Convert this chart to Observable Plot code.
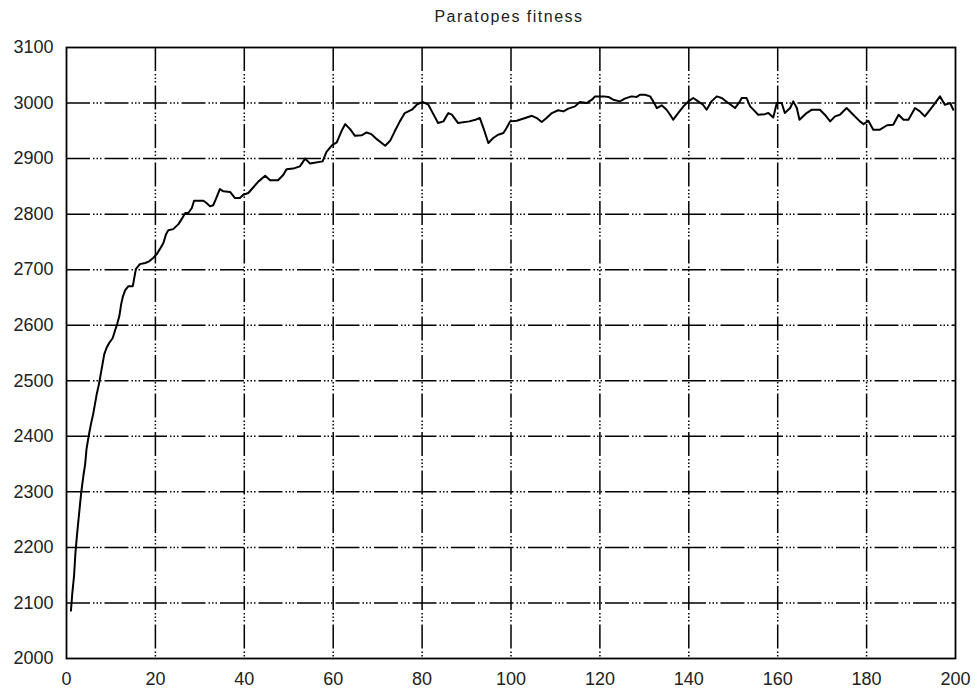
<!DOCTYPE html>
<html>
<head>
<meta charset="utf-8">
<script src="https://cdn.jsdelivr.net/npm/d3@7"></script>
<script src="https://cdn.jsdelivr.net/npm/@observablehq/plot@0.6"></script>
<style>
  html, body { margin: 0; padding: 0; background: #fff; }
  #title { position: relative; width: 975px; height: 30px; }
  #title span { position: absolute; left: 509px; top: 8px; transform: translateX(-50%);
    font-family: "Liberation Sans", Arial, sans-serif; font-size: 16px; letter-spacing: 1.5px; color: #222; white-space: nowrap; }
</style>
</head>
<body>
<div id="title"><span>Paratopes fitness</span></div>
<div id="chart"></div>
<script>
const generation = [1,1.3,1.7,2,2.4,2.9,3.3,3.8,4.2,4.5,5,5.5,6,6.4,6.8,7.3,7.7,8.1,8.5,9,9.6,10.4,10.9,11.4,11.9,12.3,12.7,13.2,13.9,14.9,15.2,15.6,16.5,17.7,18.6,19.5,20.3,21,21.8,22.4,22.9,24,25.2,25.9,26.7,27.4,28.2,28.7,30.8,31.5,32.3,33,33.6,34.5,35.3,36.8,37.9,39,39.8,40.9,42,43.2,44.7,45.8,47.6,48.8,49.5,51,52.5,53.7,54.8,57.6,58.5,59.7,60.8,61.9,62.7,63.8,64.9,66.4,67.5,68.6,69.8,71.7,72.8,73.9,75,76.1,77.7,78.8,80.1,81.4,82.2,83.6,84.8,85.9,86.7,88.1,90.6,92,93,93.8,94.9,96,97.1,98.3,99,99.8,101.3,103.2,104.7,105.8,106.9,108,109.2,110.6,111.8,112.9,114.4,115.5,117,118.2,118.9,120.8,121.9,123,124.5,125.6,127.1,128.3,129,130.1,131.3,132,132.8,133.9,135,135.8,136.5,137.6,138.8,139.9,141,142.1,143.2,144,145.1,146.3,147.4,148.9,150.4,151.5,151.9,153,153.8,154.9,155.6,157.1,157.9,159,159.8,160.9,161.6,162.8,163.5,164.3,164.9,166.5,167.7,169.5,170.6,171.8,172.9,174,175.5,177,178.5,179.3,180.4,181.5,183,184.6,186,187.2,188.3,189.4,190.9,192,193.1,194.3,195.4,196.5,197.6,198.8,199.5];
const fitness = [2086,2117,2149,2189,2226,2266,2298,2329,2350,2377,2401,2422,2440,2458,2476,2494,2512,2530,2548,2559,2568,2577,2590,2602,2617,2638,2652,2663,2670,2670,2683,2701,2710,2712,2715,2721,2728,2737,2748,2764,2771,2773,2782,2791,2802,2802,2811,2824,2824,2820,2814,2816,2827,2845,2841,2840,2829,2829,2835,2838,2848,2859,2869,2861,2861,2871,2881,2882,2886,2900,2891,2895,2912,2924,2929,2950,2962,2953,2941,2942,2947,2944,2935,2923,2932,2950,2967,2982,2988,2997,3002,2997,2985,2964,2967,2982,2979,2964,2967,2970,2973,2955,2928,2937,2943,2946,2955,2967,2968,2973,2977,2973,2966,2973,2982,2987,2985,2990,2994,3002,3000,3006,3012,3012,3011,3006,3003,3008,3012,3011,3015,3015,3012,3003,2991,2996,2988,2979,2970,2982,2994,3003,3009,3003,2997,2988,3003,3012,3009,3000,2991,3003,3009,3009,2994,2985,2979,2980,2982,2974,3000,3000,2982,2991,3003,2991,2970,2982,2988,2988,2979,2967,2976,2979,2991,2979,2967,2962,2968,2952,2952,2960,2961,2979,2970,2970,2991,2985,2976,2988,3000,3012,2997,3000,2988];
const xTicks = [0,20,40,60,80,100,120,140,160,180,200];
const yTicks = [2000,2100,2200,2300,2400,2500,2600,2700,2800,2900,3000,3100];

const data = generation.map((g, i) => ({g, f: fitness[i]}));
const dash = "24,3,1.5,2,1.5,2,1.5,3";

const chart = Plot.plot({
  width: 975,
  height: 661,
  marginLeft: 66,
  marginRight: 20,
  marginTop: 17,
  marginBottom: 33,
  style: {fontFamily: "'Liberation Sans', Arial, sans-serif", fontSize: "18px", color: "#222", background: "#fff"},
  x: {domain: [0, 200], ticks: xTicks},
  y: {domain: [2000, 3100], ticks: yTicks},
  marks: [
    Plot.gridX(xTicks.slice(1, -1), {stroke: "#000", strokeOpacity: 1, strokeWidth: 1.5, strokeDasharray: dash}),
    Plot.gridY(yTicks.slice(1, -1), {stroke: "#000", strokeOpacity: 1, strokeWidth: 1.5, strokeDasharray: dash}),
    Plot.axisX(xTicks, {tickSize: 0, tickPadding: 14, label: null, fill: "#222", fontSize: 18}),
    Plot.axisY(yTicks, {tickSize: 0, tickPadding: 13, label: null, fill: "#222", fontSize: 18, tickFormat: d => String(d)}),
    Plot.line(data, {x: "g", y: "f", stroke: "#000", strokeWidth: 2}),
    Plot.frame({stroke: "#000", strokeWidth: 1.8})
  ]
});
document.getElementById("chart").appendChild(chart);
</script>
</body>
</html>
